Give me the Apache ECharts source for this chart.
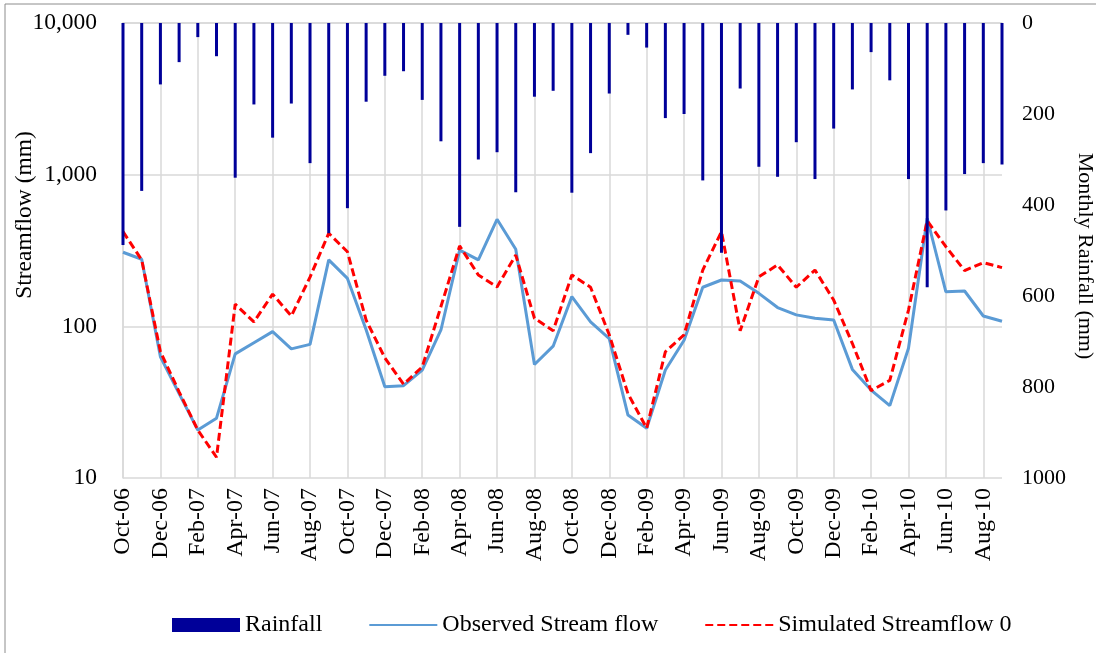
<!DOCTYPE html>
<html>
<head>
<meta charset="utf-8">
<script src="https://cdn.jsdelivr.net/npm/echarts@6/dist/echarts.min.js"></script>
<style>
html,body{margin:0;padding:0;background:#fff;}
#chart{width:1096px;height:653px;}
</style>
</head>
<body>
<div id="chart"></div>
<script>
const months = ['Oct-06','Nov-06','Dec-06','Jan-07','Feb-07','Mar-07','Apr-07','May-07','Jun-07','Jul-07','Aug-07','Sep-07',
  'Oct-07','Nov-07','Dec-07','Jan-08','Feb-08','Mar-08','Apr-08','May-08','Jun-08','Jul-08','Aug-08','Sep-08',
  'Oct-08','Nov-08','Dec-08','Jan-09','Feb-09','Mar-09','Apr-09','May-09','Jun-09','Jul-09','Aug-09','Sep-09',
  'Oct-09','Nov-09','Dec-09','Jan-10','Feb-10','Mar-10','Apr-10','May-10','Jun-10','Jul-10','Aug-10','Sep-10'];

const rainfall = [488,369,135,86,31,73,340,179,252,177,308,462,
  407,173,116,106,169,260,448,300,284,372,162,149,
  373,286,155,26,54,209,200,346,505,144,316,338,
  262,343,232,146,64,126,343,581,412,332,308,311];

const observed = [308,277,63,36,20.7,24.8,65.8,78,92.3,71,76,274,
  207,95,40,40.6,51.5,94.6,318,274,508,322,56,74,
  157,107,83,26,21.3,51.5,81,181,202,199,165,133,
  119,113,110,52,38,30,71.6,516,169,171,117,108];

const simulated = [421,274,68,37,20.7,13.7,140,107,163,117,211,411,
  310,110,62,41.5,54,135,339,218,182,295,113,93.5,
  218,181,88,36,21.3,68,88,235,421,93.5,212,254,
  181,235,149,77,37.7,44,128,497,335,233,263,244];

const streamTicks = [10, 10000];
const rainTicks = [0, 1000, 200];

const FONT = '"Liberation Serif", "Times New Roman", serif';
const GRID = '#d9d9d9';

const chart = echarts.init(document.getElementById('chart'), null, {renderer:'canvas'});
chart.setOption({
  animation: false,
  backgroundColor: '#fff',
  textStyle: {fontFamily: FONT, color: '#000'},
  grid: {left: 123, right: 94, top: 23, bottom: 175, containLabel: false},
  graphic: [
    {type:'rect', shape:{x:5, y:4, width:1200, height:800}, style:{fill:'none', stroke:'#8c8c8c', lineWidth:1}, silent:true, z:-1},
    {type:'text', x:25, y:215, rotation:Math.PI/2, style:{text:'Streamflow (mm)', font:'23.5px ' + FONT, fill:'#000', textAlign:'center', textVerticalAlign:'middle'}},
    {type:'text', x:1085, y:256, rotation:-Math.PI/2, style:{text:'Monthly Rainfall (mm)', font:'22px ' + FONT, fill:'#000', textAlign:'center', textVerticalAlign:'middle'}}
  ],
  legend: {
    left: 172, top: 613, padding: 0,
    itemWidth: 68, itemHeight: 14, itemGap: 46,
    textStyle: {fontFamily: FONT, fontSize: 24, color: '#000'},
    data: [
      {name:'Rainfall', icon:'rect'},
      {name:'Observed Stream flow', itemStyle:{opacity:0}},
      {name:'Simulated Streamflow 0', itemStyle:{opacity:0}}
    ]
  },
  xAxis: [{
    type: 'category', data: months, boundaryGap: false,
    axisLine: {show: true, lineStyle: {color: GRID, width: 1.5}},
    axisTick: {show: false},
    axisLabel: {interval: 1, rotate: 90, fontSize: 24, fontFamily: FONT, color: '#000', margin: 10},
    splitLine: {show: true, interval: 1, lineStyle: {color: GRID, width: 1.5}}
  }],
  yAxis: [{
    type: 'log', logBase: 10, min: streamTicks[0], max: streamTicks[1],
    axisLine: {show: true, lineStyle: {color: GRID, width: 1.5}},
    axisTick: {show: false},
    axisLabel: {fontSize: 23.5, fontFamily: FONT, color: '#000', margin: 26},
    splitLine: {show: true, lineStyle: {color: GRID, width: 1.5}}
  }, {
    type: 'value', position: 'right', inverse: true,
    min: rainTicks[0], max: rainTicks[1], interval: rainTicks[2],
    axisLine: {show: false}, axisTick: {show: false},
    axisLabel: {fontSize: 22, fontFamily: FONT, color: '#000', margin: 20, formatter: function (v) { return String(v); }},
    splitLine: {show: false}
  }],
  series: [{
    name: 'Rainfall', type: 'bar', yAxisIndex: 1, data: rainfall,
    barWidth: 3, itemStyle: {color: '#000099'}, z: 4
  }, {
    name: 'Observed Stream flow', type: 'line', yAxisIndex: 0, data: observed,
    symbol: 'none', showSymbol: false,
    lineStyle: {color: '#5B9BD5', width: 3}, itemStyle: {color: '#5B9BD5'}, z: 2
  }, {
    name: 'Simulated Streamflow 0', type: 'line', yAxisIndex: 0, data: simulated,
    symbol: 'none', showSymbol: false,
    lineStyle: {color: '#FF0000', width: 3, type: [8, 4]}, itemStyle: {color: '#FF0000'}, z: 3
  }]
});
</script>
</body>
</html>
